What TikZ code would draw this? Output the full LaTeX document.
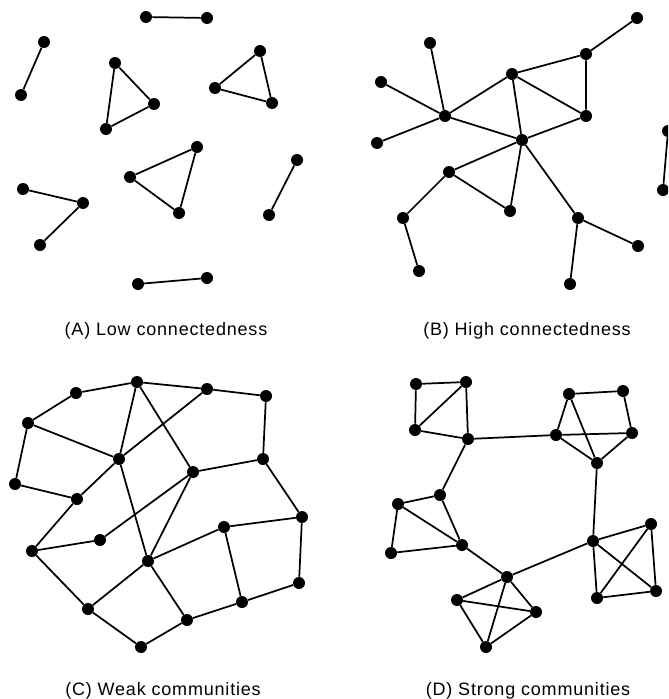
\documentclass[tikz,border=0pt]{standalone}
\usepackage{fontspec}
\setmainfont{Liberation Sans}[LetterSpace=4.5]
\usetikzlibrary{positioning}

\begin{document}
\begin{tikzpicture}[x=0.75pt, y=-0.75pt,
            dot/.style={circle, fill=black, inner sep=0pt, minimum size=9pt},
            link/.style={line width=1.3pt},
            panel label/.style={anchor=base, font=\fontsize{13.5}{16}\selectfont}]

            \useasboundingbox (0,0) rectangle (668,699);
            \clip (0,0) rectangle (668,699);

            % (A) scattered pairs and triangles
            \node[dot] (a1) at (146,17) {};
            \node[dot] (a2) at (207,18) {};
            \node[dot] (a3) at (44,42) {};
            \node[dot] (a4) at (21,95) {};
            \node[dot] (a5) at (115,63) {};
            \node[dot] (a6) at (154,104) {};
            \node[dot] (a7) at (106,129) {};
            \node[dot] (a8) at (260,51) {};
            \node[dot] (a9) at (215,88) {};
            \node[dot] (a10) at (272,103) {};
            \node[dot] (a11) at (197,147) {};
            \node[dot] (a12) at (130,177) {};
            \node[dot] (a13) at (179,213) {};
            \node[dot] (a14) at (297,160) {};
            \node[dot] (a15) at (269,215) {};
            \node[dot] (a16) at (23,189) {};
            \node[dot] (a17) at (83,203) {};
            \node[dot] (a18) at (40,245) {};
            \node[dot] (a19) at (138,284) {};
            \node[dot] (a20) at (207,278) {};

            \draw[link] (a1) -- (a2) (a3) -- (a4);
            \draw[link] (a5) -- (a6) -- (a7) -- (a5);
            \draw[link] (a8) -- (a9) -- (a10) -- (a8);
            \draw[link] (a11) -- (a12) -- (a13) -- (a11);
            \draw[link] (a14) -- (a15) (a16) -- (a17) -- (a18) (a19) -- (a20);

            \node[panel label] (lbl-a) at (166,335) {(A) Low connectedness};

            % (B) one connected network
            \node[dot] (b1) at (637,18) {};
            \node[dot] (b2) at (586,54) {};
            \node[dot] (b3) at (512,74) {};
            \node[dot] (b4) at (586,116) {};
            \node[dot] (b5) at (430,43) {};
            \node[dot] (b6) at (381,82) {};
            \node[dot] (b7) at (445,116) {};
            \node[dot] (b8) at (377,143) {};
            \node[dot] (b9) at (522,140) {};
            \node[dot] (b10) at (449,172) {};
            \node[dot] (b11) at (510,211) {};
            \node[dot] (b12) at (403,218) {};
            \node[dot] (b13) at (419,271) {};
            \node[dot] (b14) at (578,218) {};
            \node[dot] (b15) at (638,246) {};
            \node[dot] (b16) at (570,284) {};
            \node[dot] (b17) at (668,131) {};
            \node[dot] (b18) at (663,190) {};

            \draw[link] (b1) -- (b2) -- (b3) -- (b4) -- (b2);
            \draw[link] (b3) -- (b7) (b3) -- (b9) -- (b4);
            \draw[link] (b5) -- (b7) (b6) -- (b7) -- (b8) (b7) -- (b9);
            \draw[link] (b9) -- (b10) -- (b11) -- (b9) -- (b14);
            \draw[link] (b10) -- (b12) -- (b13);
            \draw[link] (b15) -- (b14) -- (b16) (b17) -- (b18);

            \node[panel label] (lbl-b) at (527,335) {(B) High connectedness};

            % (C) weak communities
            \node[dot] (c1) at (137,382) {};
            \node[dot] (c2) at (76,393) {};
            \node[dot] (c3) at (207,389) {};
            \node[dot] (c4) at (266,396) {};
            \node[dot] (c5) at (28,423) {};
            \node[dot] (c6) at (119,459) {};
            \node[dot] (c7) at (193,472) {};
            \node[dot] (c8) at (263,459) {};
            \node[dot] (c9) at (15,484) {};
            \node[dot] (c10) at (77,499) {};
            \node[dot] (c11) at (302,517) {};
            \node[dot] (c12) at (224,527) {};
            \node[dot] (c13) at (100,540) {};
            \node[dot] (c14) at (32,551) {};
            \node[dot] (c15) at (148,561) {};
            \node[dot] (c16) at (299,583) {};
            \node[dot] (c17) at (242,602) {};
            \node[dot] (c18) at (88,609) {};
            \node[dot] (c19) at (187,620) {};
            \node[dot] (c20) at (141,647) {};

            \draw[link] (c4) -- (c3) -- (c1) -- (c2) -- (c5) -- (c9) -- (c10);
            \draw[link] (c5) -- (c6) -- (c1) -- (c7) -- (c8) -- (c4);
            \draw[link] (c3) -- (c6) -- (c10) -- (c14) -- (c13) -- (c7) -- (c15) -- (c6);
            \draw[link] (c8) -- (c11) -- (c12) -- (c15) -- (c19) -- (c17) -- (c16) -- (c11);
            \draw[link] (c12) -- (c17) (c15) -- (c18) -- (c14) (c18) -- (c20) -- (c19);

            \node[panel label] (lbl-c) at (163,695) {(C) Weak communities};

            % (D) strong communities
            \node[dot] (d1) at (416,384) {};
            \node[dot] (d2) at (466,382) {};
            \node[dot] (d3) at (415,430) {};
            \node[dot] (d4) at (468,439) {};
            \node[dot] (d5) at (569,394) {};
            \node[dot] (d6) at (623,391) {};
            \node[dot] (d7) at (556,435) {};
            \node[dot] (d8) at (632,433) {};
            \node[dot] (d9) at (597,463) {};
            \node[dot] (d10) at (440,495) {};
            \node[dot] (d11) at (398,504) {};
            \node[dot] (d12) at (462,545) {};
            \node[dot] (d13) at (391,553) {};
            \node[dot] (d14) at (507,577) {};
            \node[dot] (d15) at (457,600) {};
            \node[dot] (d16) at (536,612) {};
            \node[dot] (d17) at (486,647) {};
            \node[dot] (d18) at (593,541) {};
            \node[dot] (d19) at (651,524) {};
            \node[dot] (d20) at (597,598) {};
            \node[dot] (d21) at (656,591) {};

            \draw[link] (d1) -- (d2) -- (d3) -- (d1) (d2) -- (d4) -- (d3);
            \draw[link] (d6) -- (d5) -- (d7) -- (d8) -- (d6) (d5) -- (d9) -- (d7) (d8) -- (d9);
            \draw[link] (d10) -- (d11) -- (d12) -- (d10) (d11) -- (d13) -- (d12);
            \draw[link] (d14) -- (d15) -- (d16) -- (d14) -- (d17) -- (d15) (d16) -- (d17);
            \draw[link] (d18) -- (d19) -- (d20) -- (d18) -- (d21) -- (d19) (d20) -- (d21);

            % bridges between the communities
            \draw[link] (d4) -- (d7) (d4) -- (d10) (d9) -- (d18) (d12) -- (d14) -- (d18);

            \node[panel label] (lbl-d) at (528,695) {(D) Strong communities};
        \end{tikzpicture}
\end{document}
